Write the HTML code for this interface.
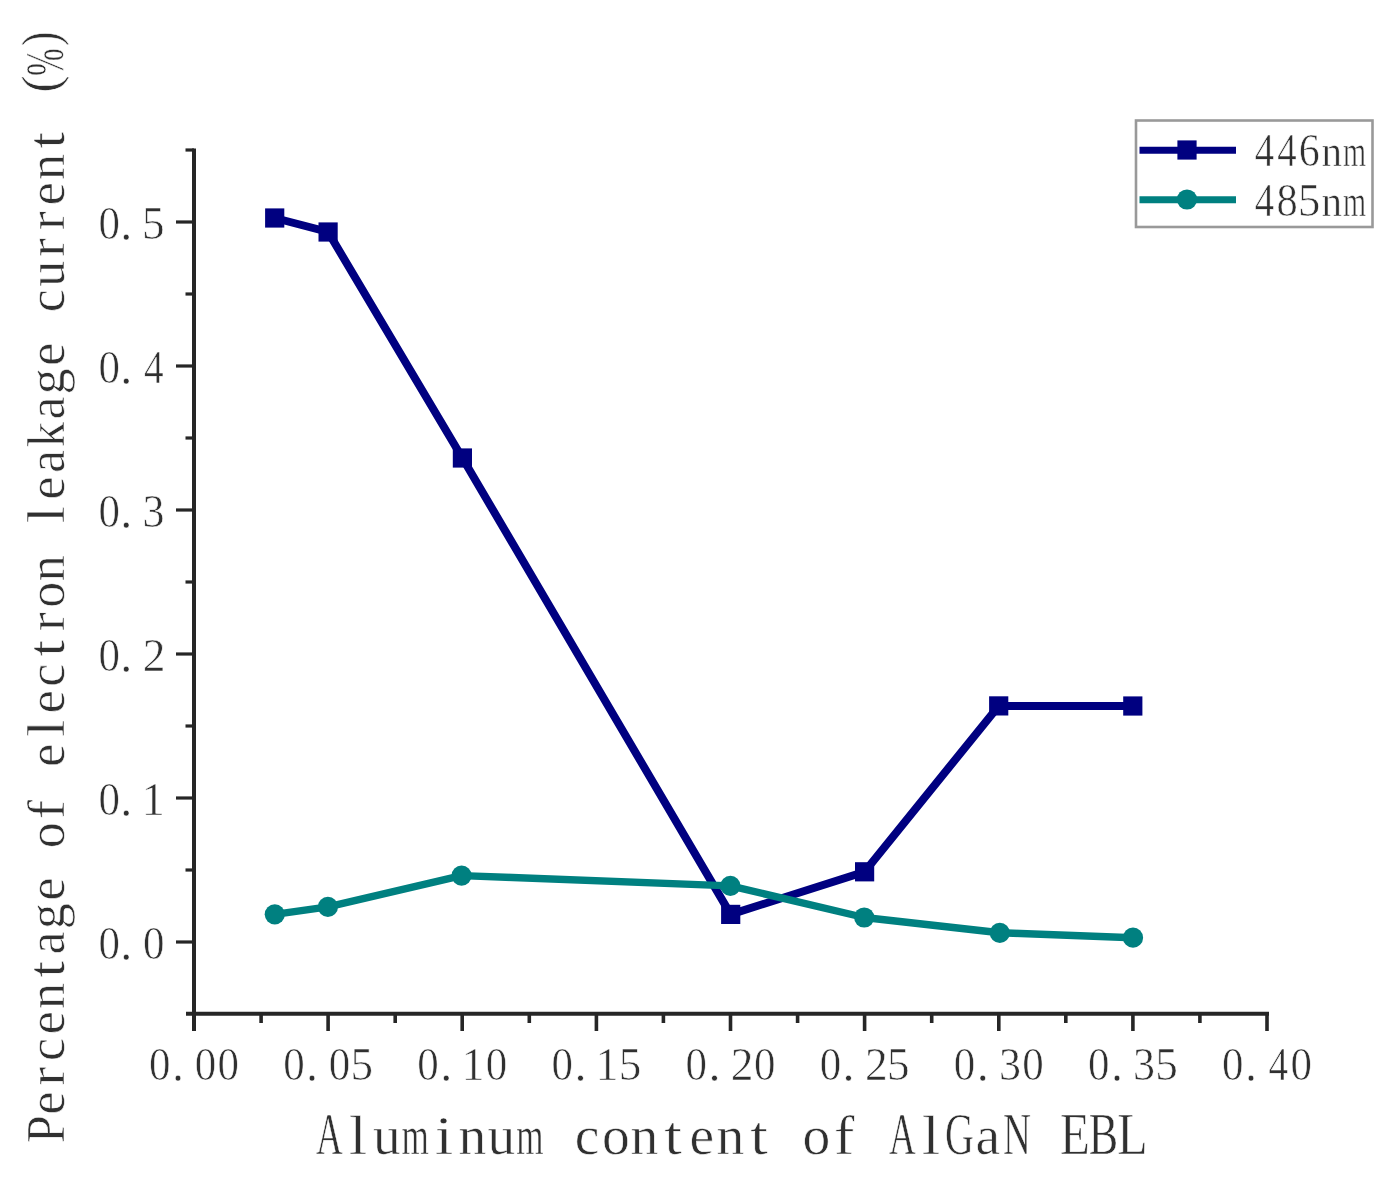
<!DOCTYPE html>
<html><head><meta charset="utf-8"><title>Electron leakage current vs Al content</title>
<style>html,body{margin:0;padding:0;background:#fff;overflow:hidden}svg{display:block;filter:blur(0.45px)}text{font-family:"Liberation Serif",serif}</style>
</head><body>
<svg width="1397" height="1180" viewBox="0 0 1397 1180">
<rect width="1397" height="1180" fill="#fff"/>
<line x1="194.0" y1="148.5" x2="194.0" y2="1031" stroke="#262626" stroke-width="4.0"/>
<line x1="186" y1="1013.7" x2="1269.0" y2="1013.7" stroke="#262626" stroke-width="4.0"/>
<line x1="176" y1="942.0" x2="194.0" y2="942.0" stroke="#262626" stroke-width="3.2"/>
<line x1="185.5" y1="870.0" x2="194.0" y2="870.0" stroke="#262626" stroke-width="3.2"/>
<line x1="176" y1="798.0" x2="194.0" y2="798.0" stroke="#262626" stroke-width="3.2"/>
<line x1="185.5" y1="726.0" x2="194.0" y2="726.0" stroke="#262626" stroke-width="3.2"/>
<line x1="176" y1="654.0" x2="194.0" y2="654.0" stroke="#262626" stroke-width="3.2"/>
<line x1="185.5" y1="582.0" x2="194.0" y2="582.0" stroke="#262626" stroke-width="3.2"/>
<line x1="176" y1="510.0" x2="194.0" y2="510.0" stroke="#262626" stroke-width="3.2"/>
<line x1="185.5" y1="438.0" x2="194.0" y2="438.0" stroke="#262626" stroke-width="3.2"/>
<line x1="176" y1="366.0" x2="194.0" y2="366.0" stroke="#262626" stroke-width="3.2"/>
<line x1="185.5" y1="294.0" x2="194.0" y2="294.0" stroke="#262626" stroke-width="3.2"/>
<line x1="176" y1="222.0" x2="194.0" y2="222.0" stroke="#262626" stroke-width="3.2"/>
<line x1="185.5" y1="150.0" x2="194.0" y2="150.0" stroke="#262626" stroke-width="3.2"/>
<line x1="194.0" y1="1013.7" x2="194.0" y2="1031" stroke="#262626" stroke-width="3.6"/>
<line x1="261.1" y1="1013.7" x2="261.1" y2="1023" stroke="#262626" stroke-width="3.6"/>
<line x1="328.1" y1="1013.7" x2="328.1" y2="1031" stroke="#262626" stroke-width="3.6"/>
<line x1="395.2" y1="1013.7" x2="395.2" y2="1023" stroke="#262626" stroke-width="3.6"/>
<line x1="462.2" y1="1013.7" x2="462.2" y2="1031" stroke="#262626" stroke-width="3.6"/>
<line x1="529.3" y1="1013.7" x2="529.3" y2="1023" stroke="#262626" stroke-width="3.6"/>
<line x1="596.4" y1="1013.7" x2="596.4" y2="1031" stroke="#262626" stroke-width="3.6"/>
<line x1="663.4" y1="1013.7" x2="663.4" y2="1023" stroke="#262626" stroke-width="3.6"/>
<line x1="730.5" y1="1013.7" x2="730.5" y2="1031" stroke="#262626" stroke-width="3.6"/>
<line x1="797.6" y1="1013.7" x2="797.6" y2="1023" stroke="#262626" stroke-width="3.6"/>
<line x1="864.6" y1="1013.7" x2="864.6" y2="1031" stroke="#262626" stroke-width="3.6"/>
<line x1="931.7" y1="1013.7" x2="931.7" y2="1023" stroke="#262626" stroke-width="3.6"/>
<line x1="998.8" y1="1013.7" x2="998.8" y2="1031" stroke="#262626" stroke-width="3.6"/>
<line x1="1065.8" y1="1013.7" x2="1065.8" y2="1023" stroke="#262626" stroke-width="3.6"/>
<line x1="1132.9" y1="1013.7" x2="1132.9" y2="1031" stroke="#262626" stroke-width="3.6"/>
<line x1="1199.9" y1="1013.7" x2="1199.9" y2="1023" stroke="#262626" stroke-width="3.6"/>
<line x1="1267.0" y1="1013.7" x2="1267.0" y2="1031" stroke="#262626" stroke-width="3.6"/>
<polyline points="274.7,218.0 328.1,232.0 462.4,458.0 730.7,914.4 864.6,871.8 998.7,705.9 1132.8,706.0" fill="none" stroke="#000080" stroke-width="8" stroke-linejoin="miter"/>
<rect x="265.1" y="208.4" width="19.2" height="19.2" fill="#000080"/>
<rect x="318.5" y="222.4" width="19.2" height="19.2" fill="#000080"/>
<rect x="452.8" y="448.4" width="19.2" height="19.2" fill="#000080"/>
<rect x="721.1" y="904.8" width="19.2" height="19.2" fill="#000080"/>
<rect x="855.0" y="862.2" width="19.2" height="19.2" fill="#000080"/>
<rect x="989.1" y="696.3" width="19.2" height="19.2" fill="#000080"/>
<rect x="1123.2" y="696.4" width="19.2" height="19.2" fill="#000080"/>
<polyline points="274.8,914.3 327.9,906.9 461.6,875.6 730.4,885.9 864.2,917.5 999.8,932.8 1133.0,937.7" fill="none" stroke="#008080" stroke-width="7.4" stroke-linejoin="round"/>
<circle cx="274.8" cy="914.3" r="10.1" fill="#008080"/>
<circle cx="327.9" cy="906.9" r="10.1" fill="#008080"/>
<circle cx="461.6" cy="875.6" r="10.1" fill="#008080"/>
<circle cx="730.4" cy="885.9" r="10.1" fill="#008080"/>
<circle cx="864.2" cy="917.5" r="10.1" fill="#008080"/>
<circle cx="999.8" cy="932.8" r="10.1" fill="#008080"/>
<circle cx="1133.0" cy="937.7" r="10.1" fill="#008080"/>
<rect x="1136" y="120.5" width="236.5" height="106.5" fill="none" stroke="#999" stroke-width="2.6"/>
<line x1="1139.5" y1="150.2" x2="1236" y2="150.2" stroke="#000080" stroke-width="7"/>
<rect x="1177.4" y="140.4" width="19.2" height="19.2" fill="#000080"/>
<line x1="1139.5" y1="199.8" x2="1236" y2="199.8" stroke="#008080" stroke-width="7"/>
<circle cx="1187" cy="199.5" r="10.1" fill="#008080"/>
<g font-family="Liberation Serif" fill="#303030" stroke="#fff" stroke-width="0.6">
<text transform="translate(1254.74,165.60) scale(0.833,1)" font-size="46.50">4</text>
<text transform="translate(1277.24,165.60) scale(0.833,1)" font-size="46.50">4</text>
<text transform="translate(1298.69,165.60) scale(0.906,1)" font-size="46.50">6</text>
<text transform="translate(1321.56,165.60) scale(0.914,1)" font-size="45.00">n</text>
<text transform="translate(1342.88,165.60) scale(0.660,1)" font-size="45.00">m</text>
<text transform="translate(1254.74,215.60) scale(0.833,1)" font-size="46.50">4</text>
<text transform="translate(1276.38,215.60) scale(0.913,1)" font-size="46.50">8</text>
<text transform="translate(1297.90,215.60) scale(0.961,1)" font-size="46.50">5</text>
<text transform="translate(1321.56,215.60) scale(0.914,1)" font-size="45.00">n</text>
<text transform="translate(1342.88,215.60) scale(0.660,1)" font-size="45.00">m</text>
<text transform="translate(149.06,1080.40) scale(0.944,1)" font-size="45.50">0</text>
<text transform="translate(172.00,1081.00) scale(1.000,1)" font-size="48.00">.</text>
<text transform="translate(194.66,1080.40) scale(0.944,1)" font-size="45.50">0</text>
<text transform="translate(217.46,1080.40) scale(0.944,1)" font-size="45.50">0</text>
<text transform="translate(283.19,1080.40) scale(0.944,1)" font-size="45.50">0</text>
<text transform="translate(306.12,1081.00) scale(1.000,1)" font-size="48.00">.</text>
<text transform="translate(328.79,1080.40) scale(0.944,1)" font-size="45.50">0</text>
<text transform="translate(350.60,1080.40) scale(0.993,1)" font-size="45.50">5</text>
<text transform="translate(417.31,1080.40) scale(0.944,1)" font-size="45.50">0</text>
<text transform="translate(440.25,1081.00) scale(1.000,1)" font-size="48.00">.</text>
<text transform="translate(461.64,1080.40) scale(1.000,1)" font-size="45.50">1</text>
<text transform="translate(485.71,1080.40) scale(0.944,1)" font-size="45.50">0</text>
<text transform="translate(551.44,1080.40) scale(0.944,1)" font-size="45.50">0</text>
<text transform="translate(574.38,1081.00) scale(1.000,1)" font-size="48.00">.</text>
<text transform="translate(595.77,1080.40) scale(1.000,1)" font-size="45.50">1</text>
<text transform="translate(618.85,1080.40) scale(0.993,1)" font-size="45.50">5</text>
<text transform="translate(685.56,1080.40) scale(0.944,1)" font-size="45.50">0</text>
<text transform="translate(708.50,1081.00) scale(1.000,1)" font-size="48.00">.</text>
<text transform="translate(730.80,1080.40) scale(0.998,1)" font-size="45.50">2</text>
<text transform="translate(753.96,1080.40) scale(0.944,1)" font-size="45.50">0</text>
<text transform="translate(819.69,1080.40) scale(0.944,1)" font-size="45.50">0</text>
<text transform="translate(842.62,1081.00) scale(1.000,1)" font-size="48.00">.</text>
<text transform="translate(864.93,1080.40) scale(0.998,1)" font-size="45.50">2</text>
<text transform="translate(887.10,1080.40) scale(0.993,1)" font-size="45.50">5</text>
<text transform="translate(953.81,1080.40) scale(0.944,1)" font-size="45.50">0</text>
<text transform="translate(976.75,1081.00) scale(1.000,1)" font-size="48.00">.</text>
<text transform="translate(998.94,1080.40) scale(0.968,1)" font-size="45.50">3</text>
<text transform="translate(1022.21,1080.40) scale(0.944,1)" font-size="45.50">0</text>
<text transform="translate(1087.94,1080.40) scale(0.944,1)" font-size="45.50">0</text>
<text transform="translate(1110.88,1081.00) scale(1.000,1)" font-size="48.00">.</text>
<text transform="translate(1133.07,1080.40) scale(0.968,1)" font-size="45.50">3</text>
<text transform="translate(1155.35,1080.40) scale(0.993,1)" font-size="45.50">5</text>
<text transform="translate(1222.06,1080.40) scale(0.944,1)" font-size="45.50">0</text>
<text transform="translate(1245.00,1081.00) scale(1.000,1)" font-size="48.00">.</text>
<text transform="translate(1268.54,1080.40) scale(0.861,1)" font-size="45.50">4</text>
<text transform="translate(1290.46,1080.40) scale(0.944,1)" font-size="45.50">0</text>
<text transform="translate(98.46,959.00) scale(0.934,1)" font-size="46.00">0</text>
<text transform="translate(120.20,959.80) scale(1.000,1)" font-size="48.00">.</text>
<text transform="translate(143.06,959.00) scale(0.934,1)" font-size="46.00">0</text>
<text transform="translate(98.46,815.00) scale(0.934,1)" font-size="46.00">0</text>
<text transform="translate(120.20,815.80) scale(1.000,1)" font-size="48.00">.</text>
<text transform="translate(141.66,815.00) scale(1.000,1)" font-size="46.00">1</text>
<text transform="translate(98.46,671.00) scale(0.934,1)" font-size="46.00">0</text>
<text transform="translate(120.20,671.80) scale(1.000,1)" font-size="48.00">.</text>
<text transform="translate(142.70,671.00) scale(0.987,1)" font-size="46.00">2</text>
<text transform="translate(98.46,527.00) scale(0.934,1)" font-size="46.00">0</text>
<text transform="translate(120.20,527.80) scale(1.000,1)" font-size="48.00">.</text>
<text transform="translate(142.59,527.00) scale(0.958,1)" font-size="46.00">3</text>
<text transform="translate(98.46,383.00) scale(0.934,1)" font-size="46.00">0</text>
<text transform="translate(120.20,383.80) scale(1.000,1)" font-size="48.00">.</text>
<text transform="translate(143.94,383.00) scale(0.851,1)" font-size="46.00">4</text>
<text transform="translate(98.46,239.00) scale(0.934,1)" font-size="46.00">0</text>
<text transform="translate(120.20,239.80) scale(1.000,1)" font-size="48.00">.</text>
<text transform="translate(142.07,239.00) scale(0.982,1)" font-size="46.00">5</text>
<text transform="translate(316.04,1154.30) scale(0.619,1)" font-size="59.56">A</text>
<text transform="translate(348.80,1154.30) scale(1.200,1)" font-size="55.50">l</text>
<text transform="translate(372.97,1154.30) scale(0.997,1)" font-size="55.50">u</text>
<text transform="translate(401.61,1154.30) scale(0.632,1)" font-size="55.50">m</text>
<text transform="translate(434.68,1154.30) scale(1.200,1)" font-size="55.50">i</text>
<text transform="translate(458.56,1154.30) scale(1.000,1)" font-size="55.50">n</text>
<text transform="translate(487.57,1154.30) scale(0.997,1)" font-size="55.50">u</text>
<text transform="translate(516.21,1154.30) scale(0.632,1)" font-size="55.50">m</text>
<text transform="translate(574.73,1154.30) scale(1.000,1)" font-size="55.50">c</text>
<text transform="translate(602.02,1154.30) scale(1.000,1)" font-size="55.50">o</text>
<text transform="translate(630.46,1154.30) scale(1.000,1)" font-size="55.50">n</text>
<text transform="translate(664.21,1154.30) scale(1.150,1)" font-size="55.50">t</text>
<text transform="translate(689.41,1154.30) scale(1.000,1)" font-size="55.50">e</text>
<text transform="translate(716.41,1154.30) scale(1.000,1)" font-size="55.50">n</text>
<text transform="translate(750.16,1154.30) scale(1.150,1)" font-size="55.50">t</text>
<text transform="translate(802.57,1154.30) scale(1.000,1)" font-size="55.50">o</text>
<text transform="translate(834.00,1154.30) scale(1.100,1)" font-size="55.50">f</text>
<text transform="translate(889.04,1154.30) scale(0.619,1)" font-size="59.56">A</text>
<text transform="translate(921.80,1154.30) scale(1.200,1)" font-size="55.50">l</text>
<text transform="translate(945.06,1154.30) scale(0.672,1)" font-size="59.56">G</text>
<text transform="translate(975.44,1154.30) scale(1.000,1)" font-size="55.50">a</text>
<text transform="translate(1002.88,1154.30) scale(0.651,1)" font-size="59.56">N</text>
<text transform="translate(1059.89,1154.30) scale(0.820,1)" font-size="59.56">E</text>
<text transform="translate(1088.68,1154.30) scale(0.741,1)" font-size="59.56">B</text>
<text transform="translate(1117.17,1154.30) scale(0.836,1)" font-size="59.56">L</text>
<g transform="rotate(-90)">
<text transform="translate(-1143.09,63.50) scale(0.897,1)" font-size="55.59">P</text>
<text transform="translate(-1114.41,63.50) scale(1.000,1)" font-size="52.00">e</text>
<text transform="translate(-1085.87,63.50) scale(1.100,1)" font-size="52.00">r</text>
<text transform="translate(-1061.01,63.50) scale(1.000,1)" font-size="52.00">c</text>
<text transform="translate(-1034.19,63.50) scale(1.000,1)" font-size="52.00">e</text>
<text transform="translate(-1009.00,63.50) scale(1.000,1)" font-size="52.00">n</text>
<text transform="translate(-977.48,63.50) scale(1.150,1)" font-size="52.00">t</text>
<text transform="translate(-954.42,63.50) scale(1.000,1)" font-size="52.00">a</text>
<text transform="translate(-929.20,63.50) scale(1.000,1)" font-size="52.00">g</text>
<text transform="translate(-900.49,63.50) scale(1.000,1)" font-size="52.00">e</text>
<text transform="translate(-848.36,63.50) scale(1.000,1)" font-size="52.00">o</text>
<text transform="translate(-819.02,63.50) scale(1.100,1)" font-size="52.00">f</text>
<text transform="translate(-766.79,63.50) scale(1.000,1)" font-size="52.00">e</text>
<text transform="translate(-737.07,63.50) scale(1.200,1)" font-size="52.00">l</text>
<text transform="translate(-713.31,63.50) scale(1.000,1)" font-size="52.00">e</text>
<text transform="translate(-686.65,63.50) scale(1.000,1)" font-size="52.00">c</text>
<text transform="translate(-656.60,63.50) scale(1.150,1)" font-size="52.00">t</text>
<text transform="translate(-631.29,63.50) scale(1.100,1)" font-size="52.00">r</text>
<text transform="translate(-607.70,63.50) scale(1.000,1)" font-size="52.00">o</text>
<text transform="translate(-581.16,63.50) scale(1.000,1)" font-size="52.00">n</text>
<text transform="translate(-523.15,63.50) scale(1.200,1)" font-size="52.00">l</text>
<text transform="translate(-499.39,63.50) scale(1.000,1)" font-size="52.00">e</text>
<text transform="translate(-473.10,63.50) scale(1.000,1)" font-size="52.00">a</text>
<text transform="translate(-447.37,63.50) scale(0.972,1)" font-size="52.00">k</text>
<text transform="translate(-419.62,63.50) scale(1.000,1)" font-size="52.00">a</text>
<text transform="translate(-394.40,63.50) scale(1.000,1)" font-size="52.00">g</text>
<text transform="translate(-365.69,63.50) scale(1.000,1)" font-size="52.00">e</text>
<text transform="translate(-312.29,63.50) scale(1.000,1)" font-size="52.00">c</text>
<text transform="translate(-286.65,63.50) scale(0.995,1)" font-size="52.00">u</text>
<text transform="translate(-256.93,63.50) scale(1.100,1)" font-size="52.00">r</text>
<text transform="translate(-230.19,63.50) scale(1.100,1)" font-size="52.00">r</text>
<text transform="translate(-205.25,63.50) scale(1.000,1)" font-size="52.00">e</text>
<text transform="translate(-180.06,63.50) scale(1.000,1)" font-size="52.00">n</text>
<text transform="translate(-148.54,63.50) scale(1.150,1)" font-size="52.00">t</text>
<text transform="translate(-92.81,57.96) scale(1.014,1)" font-size="51.83">(</text>
<text transform="translate(-75.72,63.28) scale(0.602,1)" font-size="54.55">%</text>
<text transform="translate(-46.13,57.96) scale(0.856,1)" font-size="51.83">)</text>
</g>
</g>
</svg>
</body></html>
